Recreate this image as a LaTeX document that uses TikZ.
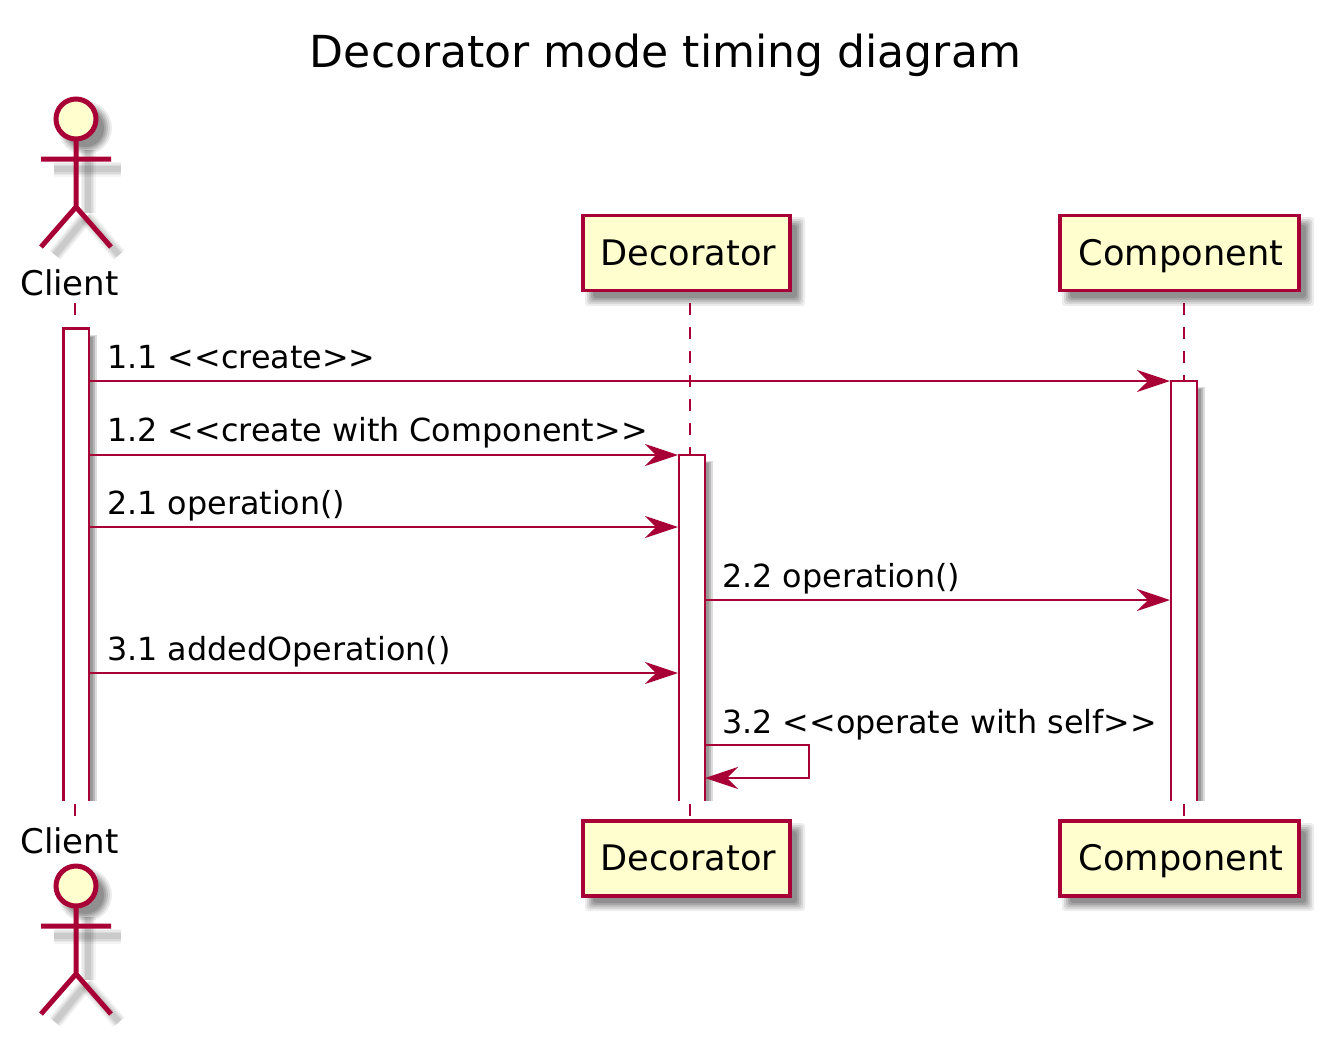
\documentclass[tikz,border=0pt]{standalone}
\usepackage{fontspec}
\setmainfont{DejaVu Sans}
\usetikzlibrary{arrows.meta}
\definecolor{puml}{HTML}{A80036}
\definecolor{pfill}{HTML}{FEFECE}
\newcommand{\softrect}[4]{%
  \foreach \e/\o in {6/.07,4/.09,2/.11,0/.13,-2/.13}{
    \fill[black,opacity=\o,rounded corners=3pt] (#1-\e,#2-\e) rectangle (#3+\e,#4+\e);}
}
\newcommand{\softline}[1]{%
  \foreach \w/\o in {15/.04,12/.05,9/.06,6/.07}{
    \draw[line width=\w pt,draw=black,opacity=\o,line cap=butt] #1;}
}
\newcommand{\actorshape}[1]{%
  \begin{scope}[shift={(0,#1)}]
    \softline{(54,169)--(121,169)}
    \softline{(88,150)--(88,213)}
    \softline{(86,217)--(55,255)}
    \softline{(86,217)--(119,255)}
    \foreach \r/\o in {27/.07,25/.09,23/.11,21/.13,19/.13}{\fill[black,opacity=\o] (85,128) circle (\r pt);}
    \draw[actorline] (76,140)--(76,207) (41,159)--(111,159) (41,247)--(76,207)--(111,247);
    \draw[actorline,fill=pfill] (76,119) circle (20pt);
  \end{scope}
}
\tikzset{
  x=1pt,y=-1pt,
  life/.style={draw=puml,line width=2.5pt,dash pattern=on 12pt off 12pt},
  box/.style={draw=puml,fill=pfill,line width=3.75pt,minimum height=75pt,inner sep=0pt,text height=33pt,text depth=9pt,font=\fontsize{35.2}{36}\selectfont,text=black},
  msg/.style={draw=puml,line width=2.6pt,-{Stealth[length=33pt,width=22pt,inset=11pt]}},
  lbl/.style={anchor=base west,inner sep=0pt,font=\fontsize{31.8}{32}\selectfont,text=black},
  actname/.style={anchor=base,inner sep=0pt,font=\fontsize{34}{34}\selectfont,text=black},
  actorline/.style={draw=puml,line width=5pt},
  actbar/.style={draw=puml,line width=2.6pt},
}
\begin{document}
\begin{tikzpicture}
\useasboundingbox (0,0) rectangle (1324,1039);
\fill[white] (0,0) rectangle (1324,1039);
\node[anchor=base,inner sep=0pt,font=\fontsize{44.1}{45}\selectfont] (title) at (665.5,67) {Decorator mode timing diagram};

% lifelines
\coordinate (ctop) at (75,303); \coordinate (cmid) at (75,801);
\coordinate (dtop) at (690,303); \coordinate (dmid) at (690,801);
\coordinate (ptop) at (1184,303); \coordinate (pmid) at (1184,801);
\coordinate (cs) at (75,804); \coordinate (ce) at (75,816);
\coordinate (ds) at (690,804); \coordinate (de) at (690,816);
\coordinate (ps) at (1184,804); \coordinate (pe) at (1184,816);
\draw[life] (ctop)--(cmid);
\draw[life] (dtop)--(dmid);
\draw[life] (ptop)--(pmid);
\draw[life] (cs)--(ce);
\draw[life] (ds)--(de);
\draw[life] (ps)--(pe);

% actors
\actorshape{0}
\actorshape{767}
\node[actname] (clienttop) at (69.5,295) {Client};
\node[actname] (clientbot) at (69.5,853) {Client};

% boxes
\softrect{591}{223}{799}{300}
\softrect{1068}{223}{1308}{300}
\softrect{591}{829}{799}{905}
\softrect{1068}{829}{1308}{905}
\node[box,minimum width=207pt] (dectop) at (686.5,253) {\hspace*{4pt}Decorator};
\node[box,minimum width=239pt] (comptop) at (1179.5,253) {\hspace*{3pt}Component};
\node[box,minimum width=207pt] (decbot) at (686.5,858.5) {\hspace*{4pt}Decorator};
\node[box,minimum width=239pt] (compbot) at (1179.5,858.5) {\hspace*{3pt}Component};

% activation bars
\foreach \l/\t in {89/335,705/461,1197/387}{
  \fill[black,opacity=.14] (\l,\t) rectangle (\l+8,801);
  \fill[black,opacity=.16] (\l,\t+1) rectangle (\l+6,801);
  \fill[black,opacity=.16] (\l,\t+2) rectangle (\l+4,801);
}
\path[fill=white] (63,328) rectangle (89,801);
\path[fill=white] (679,455) rectangle (705,801);
\path[fill=white] (1171,381) rectangle (1197,801);
\coordinate (a1tl) at (63.5,328.5); \coordinate (a1tr) at (89,328.5);
\coordinate (a1bl) at (63.5,801);   \coordinate (a1br) at (89,801);
\coordinate (a2tl) at (679,455);    \coordinate (a2tr) at (705,455);
\coordinate (a2bl) at (679,801);    \coordinate (a2br) at (705,801);
\coordinate (a3tl) at (1171,381);   \coordinate (a3tr) at (1197,381);
\coordinate (a3bl) at (1171,801);   \coordinate (a3br) at (1197,801);
\draw[actbar] (a1bl)--(a1tl)--(a1tr)--(a1br);
\draw[actbar] (a2bl)--(a2tl)--(a2tr)--(a2br);
\draw[actbar] (a3bl)--(a3tl)--(a3tr)--(a3br);

\coordinate (m1a) at (89,381);  \coordinate (m1b) at (1170,381);
\coordinate (m2a) at (89,455);  \coordinate (m2b) at (678,455);
\coordinate (m3a) at (89,527);  \coordinate (m3b) at (678,527);
\coordinate (m4a) at (705,600); \coordinate (m4b) at (1170,600);
\coordinate (m5a) at (89,673);  \coordinate (m5b) at (678,673);
\coordinate (m6a) at (705,745); \coordinate (m6c) at (809,745);
\coordinate (m6d) at (809,778); \coordinate (m6b) at (705,778);
\draw[msg] (m1a)--(m1b);
\draw[msg] (m2a)--(m2b);
\draw[msg] (m3a)--(m3b);
\draw[msg] (m4a)--(m4b);
\draw[msg] (m5a)--(m5b);
\draw[msg] (m6a)--(m6c)--(m6d)--(m6b);

\node[lbl] (l1) at (107,368) {1.1 <{}<create>{}>};
\node[lbl] (l2) at (107,441) {1.2 <{}<create with Component>{}>};
\node[lbl] (l3) at (107,514) {2.1 operation()};
\node[lbl] (l4) at (722,587) {2.2 operation()};
\node[lbl] (l5) at (107,660) {3.1 addedOperation()};
\node[lbl] (l6) at (722,733) {3.2 <{}<operate with self>{}>};
\end{tikzpicture}
\end{document}
